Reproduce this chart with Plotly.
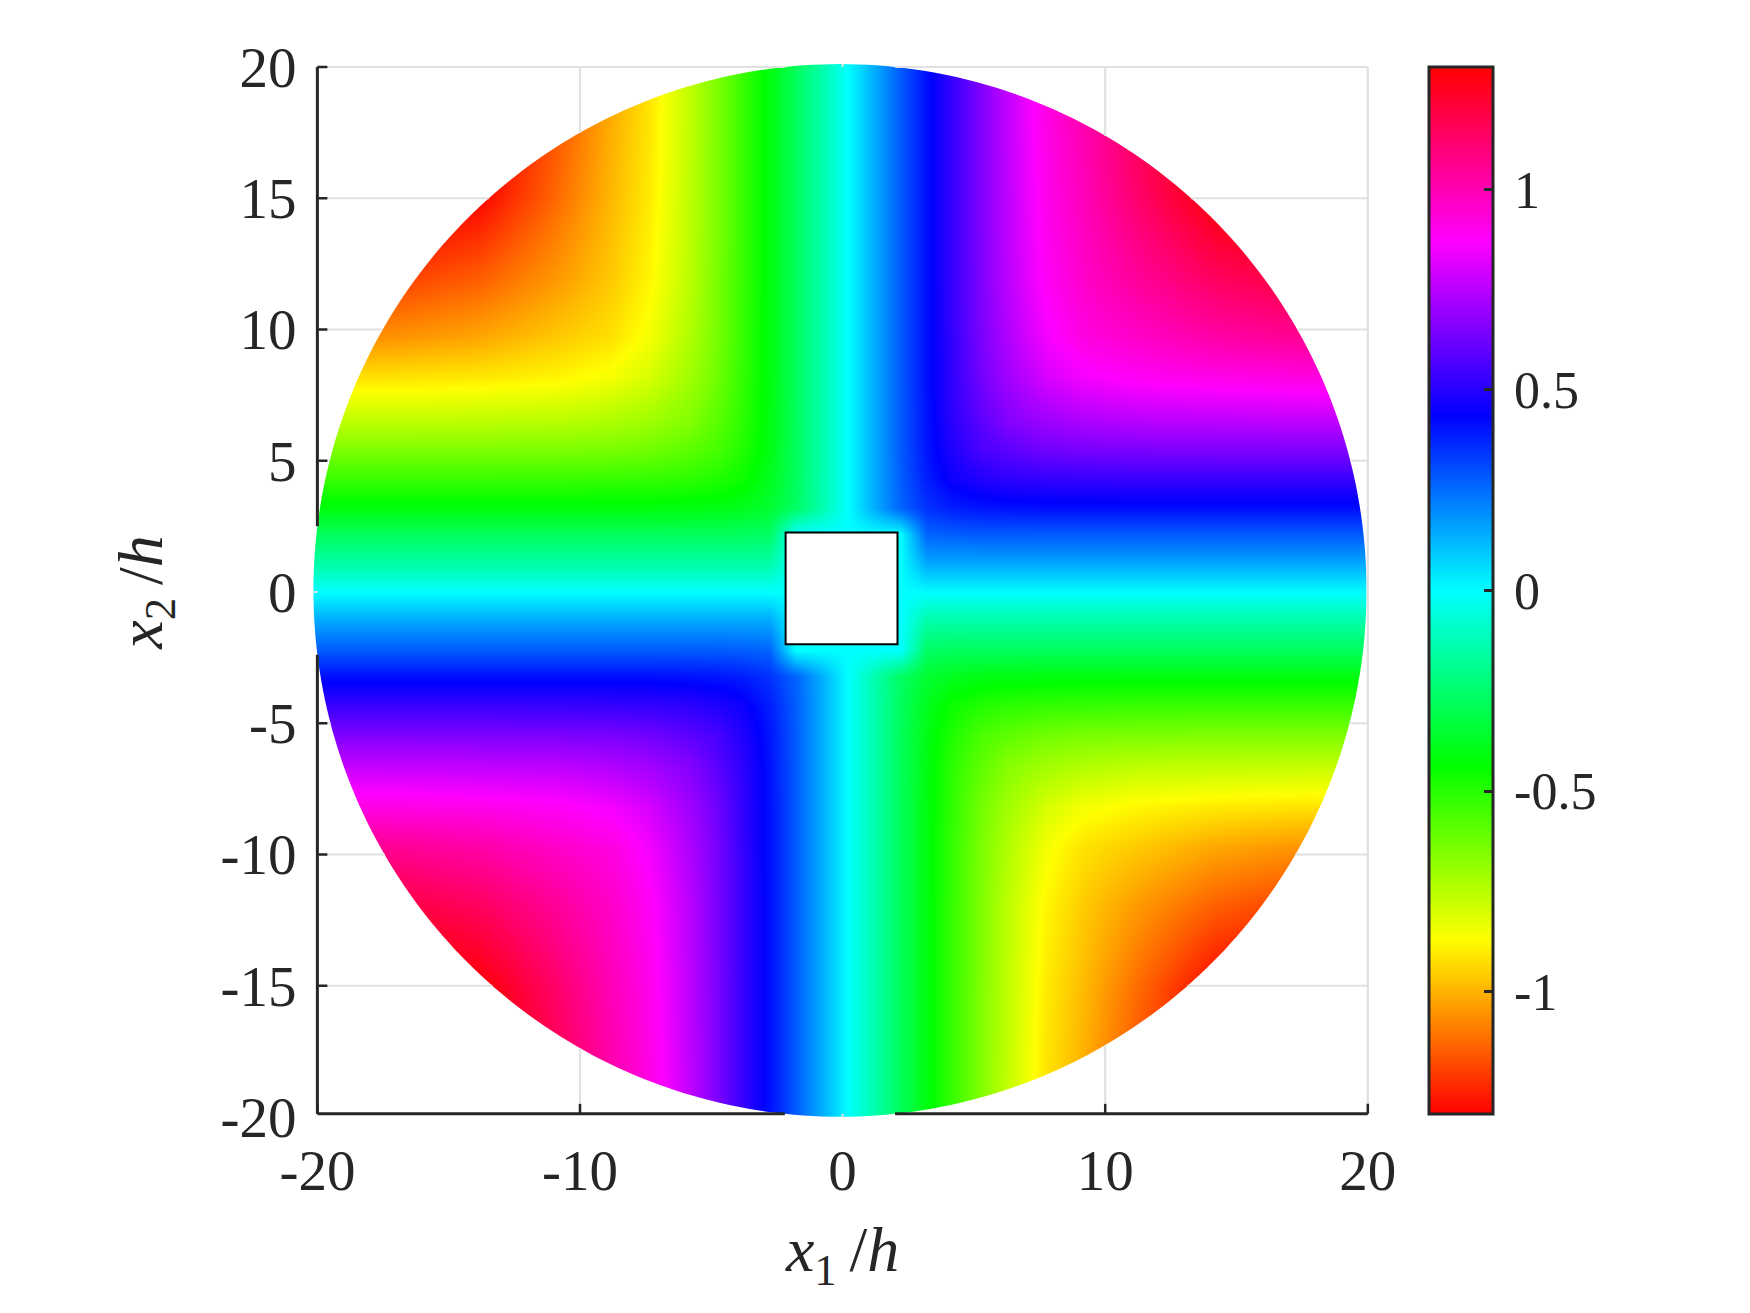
import math
import plotly.graph_objects as go

x_grid = [-20.3,-16.8,-13.8,-10.8,-8.8,-7.3,-5.8,-4.8,-3.8,-2.8,-1.8,-0.8,0.2,1.2,2.2,3.2,4.2,5.2,6.2,7.7,9.2,11.2,14.2,17.2,20.7]
y_grid = [-22.1,-18.4,-15.1,-11.9,-9.7,-8.1,-6.5,-5.4,-4.3,-3.2,-2.2,-1.1,0,1.1,2.2,3.2,4.3,5.4,6.5,8.1,9.7,11.9,15.1,18.4,22.1]

z_rows = [
 [1.46,1.45,1.38,1.16,1.02,.915,.76,.65,.53,.41,.28,.14,0,-.14,-.28,-.41,-.53,-.65,-.76,-.915,-1.02,-1.16,-1.38,-1.45,-1.46],
 [1.45,1.42,1.36,1.16,1.01,.91,.76,.65,.53,.41,.28,.14,0,-.14,-.28,-.41,-.53,-.65,-.76,-.91,-1.01,-1.16,-1.36,-1.42,-1.45],
 [1.38,1.36,1.30,1.12,.99,.90,.755,.65,.53,.41,.28,.14,0,-.14,-.28,-.41,-.53,-.65,-.755,-.90,-.99,-1.12,-1.30,-1.36,-1.38],
 [1.22,1.19,1.14,1.04,.96,.88,.75,.645,.53,.41,.28,.14,0,-.14,-.28,-.41,-.53,-.645,-.75,-.88,-.96,-1.04,-1.14,-1.19,-1.22],
 [1.07,1.05,1.02,.96,.92,.85,.73,.64,.525,.41,.28,.14,0,-.14,-.28,-.41,-.525,-.64,-.73,-.85,-.92,-.96,-1.02,-1.05,-1.07],
 [.915,.91,.90,.88,.85,.795,.705,.625,.52,.41,.28,.14,0,-.14,-.28,-.41,-.52,-.625,-.705,-.795,-.85,-.88,-.90,-.91,-.915],
 [.76,.76,.755,.75,.73,.705,.655,.59,.51,.405,.28,.14,0,-.14,-.28,-.405,-.51,-.59,-.655,-.705,-.73,-.75,-.755,-.76,-.76],
 [.65,.65,.65,.645,.64,.625,.59,.555,.49,.40,.28,.14,0,-.14,-.28,-.40,-.49,-.555,-.59,-.625,-.64,-.645,-.65,-.65,-.65],
 [.53,.53,.53,.53,.525,.52,.51,.49,.455,.385,.275,.14,0,-.14,-.275,-.385,-.455,-.49,-.51,-.52,-.525,-.53,-.53,-.53,-.53],
 [.41,.41,.41,.41,.41,.41,.405,.40,.385,.35,.265,.14,0,-.14,-.265,-.35,-.385,-.40,-.405,-.41,-.41,-.41,-.41,-.41,-.41],
 [.28,.28,.28,.28,.28,.28,.28,.28,.275,.265,0,0,0,0,0,-.265,-.275,-.28,-.28,-.28,-.28,-.28,-.28,-.28,-.28],
 [.15,.15,.15,.15,.15,.15,.15,.15,.15,.15,0,0,0,0,0,-.15,-.15,-.15,-.15,-.15,-.15,-.15,-.15,-.15,-.15],
 [0,0,0,0,0,0,0,0,0,0,0,0,0,0,0,0,0,0,0,0,0,0,0,0,0],
 [-.15,-.15,-.15,-.15,-.15,-.15,-.15,-.15,-.15,-.15,0,0,0,0,0,.15,.15,.15,.15,.15,.15,.15,.15,.15,.15],
 [-.28,-.28,-.28,-.28,-.28,-.28,-.28,-.28,-.275,-.265,0,0,0,0,0,.265,.275,.28,.28,.28,.28,.28,.28,.28,.28],
 [-.41,-.41,-.41,-.41,-.41,-.41,-.405,-.40,-.385,-.35,-.265,-.14,0,.14,.265,.35,.385,.40,.405,.41,.41,.41,.41,.41,.41],
 [-.53,-.53,-.53,-.53,-.525,-.52,-.51,-.49,-.455,-.385,-.275,-.14,0,.14,.275,.385,.455,.49,.51,.52,.525,.53,.53,.53,.53],
 [-.65,-.65,-.65,-.645,-.64,-.625,-.59,-.555,-.49,-.40,-.28,-.14,0,.14,.28,.40,.49,.555,.59,.625,.64,.645,.65,.65,.65],
 [-.76,-.76,-.755,-.75,-.73,-.705,-.655,-.59,-.51,-.405,-.28,-.14,0,.14,.28,.405,.51,.59,.655,.705,.73,.75,.755,.76,.76],
 [-.915,-.91,-.90,-.88,-.85,-.795,-.705,-.625,-.52,-.41,-.28,-.14,0,.14,.28,.41,.52,.625,.705,.795,.85,.88,.90,.91,.915],
 [-1.07,-1.05,-1.02,-.96,-.92,-.85,-.73,-.64,-.525,-.41,-.28,-.14,0,.14,.28,.41,.525,.64,.73,.85,.92,.96,1.02,1.05,1.07],
 [-1.22,-1.19,-1.14,-1.04,-.96,-.88,-.75,-.645,-.53,-.41,-.28,-.14,0,.14,.28,.41,.53,.645,.75,.88,.96,1.04,1.14,1.19,1.22],
 [-1.38,-1.36,-1.30,-1.12,-.99,-.90,-.755,-.65,-.53,-.41,-.28,-.14,0,.14,.28,.41,.53,.65,.755,.90,.99,1.12,1.30,1.36,1.38],
 [-1.45,-1.42,-1.36,-1.16,-1.01,-.91,-.76,-.65,-.53,-.41,-.28,-.14,0,.14,.28,.41,.53,.65,.76,.91,1.01,1.16,1.36,1.42,1.45],
 [-1.46,-1.45,-1.38,-1.16,-1.02,-.915,-.76,-.65,-.53,-.41,-.28,-.14,0,.14,.28,.41,.53,.65,.76,.915,1.02,1.16,1.38,1.45,1.46],
]

x_ticks = [-20, -10, 0, 10, 20]
y_ticks = [-20, -15, -10, -5, 0, 5, 10, 15, 20]
cbar_ticks = [-1, -0.5, 0, 0.5, 1]
cbar_labels = ["\u200a\u200a-1", "\u200a\u200a-0.5", "\u200a\u200a0", "\u200a\u200a0.5", "\u200a\u200a1"]
hsv_scale = ["#ff0000", "#ffff00", "#00ff00", "#00ffff", "#0000ff", "#ff00ff", "#ff0000"]

W, H = 1750, 1313
INK = "#262626"
GRID = "#e0e0e0"
FONT = "Liberation Serif"
cx, cy, R = -0.1, 0.06, 20.05
RANGE = 20.3
y_floor = -19.88
sq = (-2.17, 2.09, -1.99, 2.27)
xpx = (309.5, 1375.7)
ypx = (59.1, 1124.9)
tick_x = 10 / 26.26
tick_y = 10 / 26.25

def line(x0, y0, x1, y1, color, width):
    return dict(type="line", x0=x0, y0=y0, x1=x1, y1=y1, xref="x", yref="y",
                line=dict(color=color, width=width), layer="above")

def outside_h(y):
    d = R**2 - (y - cy)**2
    if d <= 0:
        return [(-20, 20)]
    h = math.sqrt(d)
    return [(-20, cx - h), (cx + h, 20)]

def outside_v(x):
    d = R**2 - (x - cx)**2
    if d <= 0:
        return [(y_floor, 20)]
    h = math.sqrt(d)
    return [(y_floor, cy - h), (cy + h, 20)]

ring = [(cx + R*math.cos(math.radians(a)), cy + R*math.sin(math.radians(a))) for a in range(0, 360)]
mask = (f"M{-RANGE},{-RANGE} L{RANGE},{-RANGE} L{RANGE},{RANGE} L{-RANGE},{RANGE} Z "
        + "M" + " L".join(f"{a:.3f},{b:.3f}" for a, b in ring) + " Z")

shapes = [
    dict(type="path", path=mask, xref="x", yref="y", fillcolor="white",
         line=dict(width=0), layer="above"),
    dict(type="rect", xref="paper", yref="paper",
         x0=xpx[0] / W, x1=xpx[1] / W, y0=1 - ypx[1] / H, y1=1 - ypx[0] / H,
         fillcolor="rgba(0,0,0,0)", line=dict(color="white", width=6), layer="above"),
]
for v in y_ticks:
    if v > -20:
        for a, b in outside_h(v):
            shapes.append(line(a, v, b, v, GRID, 2.2))
for v in x_ticks:
    for a, b in outside_v(v):
        shapes.append(line(v, a, v, b, GRID, 2.2))
for a, b in outside_v(-20):
    shapes.append(line(-20, a, -20, b, INK, 3))
for a, b in outside_h(y_floor):
    shapes.append(line(a, y_floor, b, y_floor, INK, 3))
for v in y_ticks:
    if v > -20 and abs(v - cy) > 3:
        shapes.append(line(-20, v, -20 + tick_x, v, INK, 2.5))
for v in x_ticks:
    if abs(v - cx) > 3:
        shapes.append(line(v, y_floor, v, y_floor + tick_y, INK, 2.5))
shapes.append(dict(type="rect", x0=sq[0], x1=sq[1], y0=sq[2], y1=sq[3], xref="x", yref="y",
                   fillcolor="white", line=dict(color="black", width=2), layer="above"))

fig = go.Figure(go.Heatmap(
    x=x_grid, y=y_grid, z=z_rows, zsmooth="best", zmin=-1.305, zmax=1.305,
    colorscale=[[i / 6, c] for i, c in enumerate(hsv_scale)],
    hoverinfo="skip",
    colorbar=dict(
        thicknessmode="pixels", thickness=63.5, lenmode="pixels", len=1047,
        x=1429 / W, xanchor="left", xpad=0, ypad=0,
        y=1 - 590.5 / H, yanchor="middle",
        outlinecolor=INK, outlinewidth=3,
        tickmode="array", tickvals=cbar_ticks, ticktext=cbar_labels,
        ticks="inside", ticklen=10, tickwidth=2.5, tickcolor=INK,
        tickfont=dict(family=FONT, size=52, color=INK),
    ),
))
fig.update_layout(
    width=W, height=H, margin=dict(l=0, r=0, t=0, b=0, autoexpand=False),
    paper_bgcolor="white", plot_bgcolor="white", shapes=shapes, showlegend=False,
    xaxis=dict(domain=[xpx[0] / W, xpx[1] / W], range=[-RANGE, RANGE],
               tickmode="array", tickvals=x_ticks, ticktext=[str(v) for v in x_ticks],
               showgrid=False, zeroline=False, showline=False, ticks="", ticklabelstandoff=7,
               tickfont=dict(family=FONT, size=57, color=INK),
               title=dict(text="<i>x</i><sub>1</sub>\u2009/<i>h</i>", standoff=25,
                          font=dict(family=FONT, size=64, color=INK))),
    yaxis=dict(domain=[1 - ypx[1] / H, 1 - ypx[0] / H], range=[-RANGE, RANGE],
               tickmode="array", tickvals=y_ticks, ticktext=[str(v) for v in y_ticks],
               showgrid=False, zeroline=False, showline=False, ticks="", ticklabelstandoff=12,
               tickfont=dict(family=FONT, size=57, color=INK),
               title=dict(text="<i>x</i><sub>2</sub>\u2009/<i>h</i>", standoff=37,
                          font=dict(family=FONT, size=64, color=INK))),
)
fig.write_html("out.html", config=dict(displayModeBar=False),
               post_script="document.body.style.margin='0';")
